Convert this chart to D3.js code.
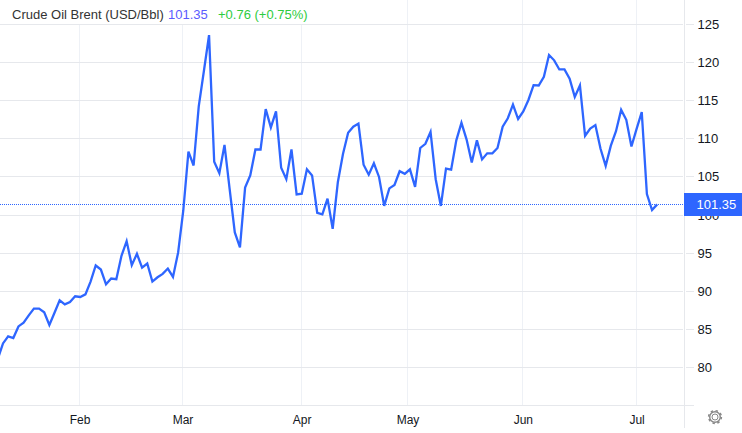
<!DOCTYPE html>
<html><head><meta charset="utf-8">
<script src="https://cdn.jsdelivr.net/npm/d3@7"></script>
<style>html,body{margin:0;padding:0;background:#fff}svg{display:block;font-family:"Liberation Sans",Arial,sans-serif}</style>
</head><body><svg id="c" width="742" height="433"></svg>
<script>
const prices = [81.14,83.16,84.08,83.86,85.39,85.88,86.84,87.72,87.72,87.24,85.57,87.19,88.82,88.29,88.6,89.34,89.25,89.6,91.27,93.38,92.85,90.92,91.67,91.58,94.65,96.58,93.42,94.91,93.11,93.64,91.27,91.84,92.28,92.98,91.89,95.09,
100.6,108.33,106.5,114.25,118.9,123.6,107.0,105.5,109.2,103.4,97.72,95.75,103.6,105.2,108.6,108.6,113.9,111.5,113.6,106.2,104.7,108.6,102.7,102.8,106.0,105.2,100.3,100.1,102.15,98.2,104.3,108.0,110.8,111.6,112.0,106.6,105.3,
106.8,105,101.2,103.5,103.95,105.75,105.4,106,103.7,108.8,109.35,110.9,104.7,101.2,106.1,105.95,109.8,112.1,109.9,106.9,109.8,107.3,108.1,108.1,108.8,111.6,112.7,114.5,112.6,113.6,115.1,117.05,117,118.15,121,120.3,119.1,119.1,117.9,115.5,117,110.4,111.35,111.8,108.7,106.45,109.1,111,113.8,112.5,109,111.3,113.5,102.75,100.65,101.4];
const monthLabels = ["Feb","Mar","Apr","May","Jun","Jul"];
const monthStarts = [15.85,35.85,58.96,79.53,101.92,124];
const yTicks = [80,85,90,95,100,105,110,115,120,125];
const titleName = "Crude Oil Brent (USD/Bbl)";
const lastPrice = 101.35;
const changeText = "+0.76 (+0.75%)";

const svg = d3.select("#c");
const x = d3.scaleLinear().domain([0,128]).range([-2.15,657.2]);
const y = d3.scaleLinear().domain([80,125]).range([367.5,24.5]);
const GRID="#e6e8ec", VG="#eef1f6", BLUE="#2e66ff";
svg.append("defs").append("clipPath").attr("id","p").append("rect").attr("x",0).attr("y",0).attr("width",684).attr("height",405);

svg.append("g").selectAll("line").data(monthStarts).join("line")
  .attr("x1",d=>Math.floor(x(d))+.5).attr("x2",d=>Math.floor(x(d))+.5).attr("y1",0).attr("y2",405).attr("stroke",VG).attr("stroke-width",1);
svg.append("g").selectAll("line").data(yTicks).join("line")
  .attr("x1",0).attr("x2",683).attr("y1",d=>Math.floor(y(d))+.5).attr("y2",d=>Math.floor(y(d))+.5).attr("stroke",GRID).attr("stroke-width",1);
svg.append("g").selectAll("line").data(yTicks).join("line")
  .attr("x1",686).attr("x2",694).attr("y1",d=>Math.floor(y(d))+.5).attr("y2",d=>Math.floor(y(d))+.5).attr("stroke",GRID);
svg.append("line").attr("x1",0).attr("x2",694).attr("y1",405.5).attr("y2",405.5).attr("stroke",GRID);
svg.append("line").attr("x1",684.5).attr("x2",684.5).attr("y1",0).attr("y2",428).attr("stroke",GRID);

svg.append("rect").attr("x",8).attr("y",0).attr("width",309).attr("height",24).attr("fill","#fff");

svg.append("line").attr("x1",0).attr("x2",684).attr("y1",Math.floor(y(lastPrice))+.5).attr("y2",Math.floor(y(lastPrice))+.5)
  .attr("stroke",BLUE).attr("stroke-width",1).attr("stroke-dasharray","1 1");
svg.append("path").datum(prices).attr("clip-path","url(#p)")
  .attr("d",d3.line().x((d,i)=>x(i)).y(d=>y(d)))
  .attr("fill","none").attr("stroke",BLUE).attr("stroke-width",2.3).attr("stroke-linejoin","miter");

svg.append("g").selectAll("text").data(yTicks).join("text")
  .attr("x",697.5).attr("y",d=>y(d)+4.5).attr("font-size",13).attr("fill","#131722").text(d=>d);
svg.append("g").selectAll("text").data(monthLabels).join("text")
  .attr("x",(d,i)=>x(monthStarts[i])+.5).attr("y",424).attr("text-anchor","middle").attr("font-size",12).attr("fill","#131722").text(d=>d);

svg.append("rect").attr("x",684).attr("y",193).attr("width",58).attr("height",23).attr("fill",BLUE);
svg.append("text").attr("x",696.5).attr("y",y(lastPrice)+4.5).attr("font-size",13).attr("fill","#fff").text(lastPrice.toFixed(2));

svg.append("text").attr("x",12).attr("y",19).attr("font-size",13).attr("fill","#333").text(titleName);
svg.append("text").attr("x",168).attr("y",19).attr("font-size",13).attr("fill","#5b5bff").text(lastPrice.toFixed(2));
svg.append("text").attr("x",218).attr("y",19).attr("font-size",13).attr("fill","#2ecc40").text(changeText);

const gear = svg.append("g").attr("transform","translate(715,417)").attr("fill","none").attr("stroke","#888");
gear.append("circle").attr("r",3).attr("stroke-width",1);
gear.append("circle").attr("r",5.3).attr("stroke-width",1.4);
gear.append("circle").attr("r",6.4).attr("stroke-width",1.5).attr("stroke-dasharray","2.4 2.6");
</script></body></html>
